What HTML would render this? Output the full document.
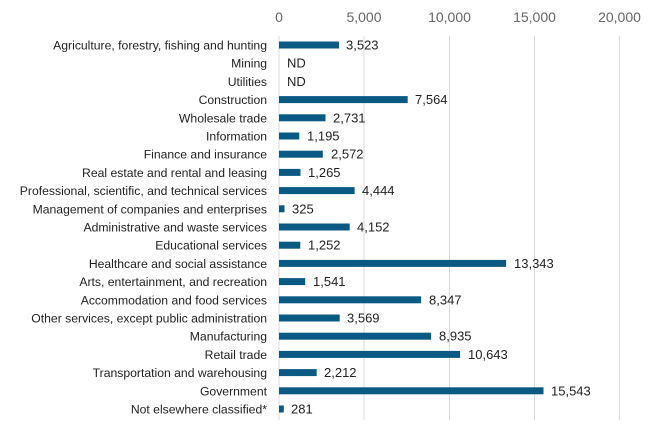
<!DOCTYPE html>
<html><head><meta charset="utf-8"><style>
body{margin:0;background:#fff;}
text{font-family:"Liberation Sans",sans-serif;font-size:13px;fill:#222;}
.t{font-size:14px;fill:#666;}
.c text{text-anchor:end;font-size:12.2px;}
</style></head><body>
<svg width="650" height="433" xmlns="http://www.w3.org/2000/svg">
<g stroke="#d9d9d9" stroke-width="1">
<line x1="279" y1="36" x2="279" y2="420"/>
<line x1="364" y1="36" x2="364" y2="420"/>
<line x1="449.5" y1="36" x2="449.5" y2="420"/>
<line x1="534.5" y1="36" x2="534.5" y2="420"/>
<line x1="619.5" y1="36" x2="619.5" y2="420"/>
</g>
<g text-anchor="middle">
<text class="t" x="279" y="22">0</text>
<text class="t" x="364" y="22">5,000</text>
<text class="t" x="449.5" y="22">10,000</text>
<text class="t" x="534.5" y="22">15,000</text>
<text class="t" x="619.5" y="22">20,000</text>
</g>
<g class="c">
<text x="267" y="49.5">Agriculture, forestry, fishing and hunting</text>
<text x="267" y="67.7">Mining</text>
<text x="267" y="85.9">Utilities</text>
<text x="267" y="104.1">Construction</text>
<text x="267" y="122.3">Wholesale trade</text>
<text x="267" y="140.5">Information</text>
<text x="267" y="158.7">Finance and insurance</text>
<text x="267" y="176.9">Real estate and rental and leasing</text>
<text x="267" y="195.1">Professional, scientific, and technical services</text>
<text x="267" y="213.3">Management of companies and enterprises</text>
<text x="267" y="231.5">Administrative and waste services</text>
<text x="267" y="249.7">Educational services</text>
<text x="267" y="267.9">Healthcare and social assistance</text>
<text x="267" y="286.1">Arts, entertainment, and recreation</text>
<text x="267" y="304.3">Accommodation and food services</text>
<text x="267" y="322.5">Other services, except public administration</text>
<text x="267" y="340.7">Manufacturing</text>
<text x="267" y="358.9">Retail trade</text>
<text x="267" y="377.1">Transportation and warehousing</text>
<text x="267" y="395.3">Government</text>
<text x="267" y="413.5">Not elsewhere classified*</text>
</g>
<g fill="#0b5a84">
<rect x="279" y="41.5" width="60" height="7"/>
<rect x="279" y="96.1" width="128.7" height="7"/>
<rect x="279" y="114.3" width="46.5" height="7"/>
<rect x="279" y="132.5" width="20.3" height="7"/>
<rect x="279" y="150.7" width="43.8" height="7"/>
<rect x="279" y="168.9" width="21.5" height="7"/>
<rect x="279" y="187.1" width="75.6" height="7"/>
<rect x="279" y="205.3" width="5.5" height="7"/>
<rect x="279" y="223.5" width="70.7" height="7"/>
<rect x="279" y="241.7" width="21.3" height="7"/>
<rect x="279" y="259.9" width="227.1" height="7"/>
<rect x="279" y="278.1" width="26.2" height="7"/>
<rect x="279" y="296.3" width="142.1" height="7"/>
<rect x="279" y="314.5" width="60.7" height="7"/>
<rect x="279" y="332.7" width="152.1" height="7"/>
<rect x="279" y="350.9" width="181.1" height="7"/>
<rect x="279" y="369.1" width="37.7" height="7"/>
<rect x="279" y="387.3" width="264.5" height="7"/>
<rect x="279" y="405.5" width="4.8" height="7"/>
</g>
<g>
<text x="346" y="49.5">3,523</text>
<text x="287" y="67.7">ND</text>
<text x="287" y="85.9">ND</text>
<text x="415" y="104.1">7,564</text>
<text x="333" y="122.3">2,731</text>
<text x="307" y="140.5">1,195</text>
<text x="331" y="158.7">2,572</text>
<text x="308" y="176.9">1,265</text>
<text x="362" y="195.1">4,444</text>
<text x="292" y="213.3">325</text>
<text x="357" y="231.5">4,152</text>
<text x="308" y="249.7">1,252</text>
<text x="514" y="267.9">13,343</text>
<text x="313" y="286.1">1,541</text>
<text x="429" y="304.3">8,347</text>
<text x="347" y="322.5">3,569</text>
<text x="439" y="340.7">8,935</text>
<text x="468" y="358.9">10,643</text>
<text x="324" y="377.1">2,212</text>
<text x="551" y="395.3">15,543</text>
<text x="291" y="413.5">281</text>
</g>
</svg>
</body></html>
